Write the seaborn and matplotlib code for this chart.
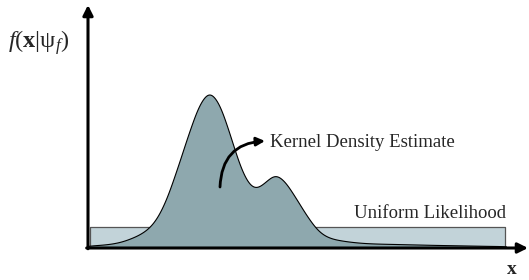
import numpy as np
import seaborn as sns
import matplotlib.pyplot as plt

# sample positions along x and the curve height read at each one
kde_x = [0.0, 0.25, 0.5, 0.75, 1.0, 1.25, 1.5, 1.75, 2.0, 2.25, 2.5, 2.75,
         3.0, 3.25, 3.5, 3.75, 4.0, 4.25, 4.5, 4.75, 5.0, 5.25, 5.5, 5.75,
         6.0, 6.25, 6.5, 6.75, 7.0, 7.25, 7.5, 7.75, 8.0, 8.25, 8.5, 8.75,
         9.0, 9.25, 9.5]
kde_w = [2.5, 3, 4, 6, 10, 15, 24, 44, 76, 110, 143, 161,
         145, 110, 74, 56, 64, 77, 66, 48, 30, 15, 9.5, 7.5,
         6, 5, 4.5, 4.2, 4, 3.7, 3.5, 3.2, 3, 2.8, 2.6, 2.4,
         2.2, 2, 2]
step = 0.25
bandwidth = 0.17

# uniform likelihood band (same height units as kde_w)
uniform_x = [0.05, 9.48]
uniform_h = 21
y_top = 243

kde_color = "#8ea8ae"
uni_color = "#c2d3d9"

sns.set_style("white")
plt.rcParams["font.family"] = ["Liberation Serif", "DejaVu Serif"]
plt.rcParams["mathtext.fontset"] = "custom"
plt.rcParams["mathtext.rm"] = "Liberation Serif"
plt.rcParams["mathtext.it"] = "Liberation Serif:italic"
plt.rcParams["mathtext.bf"] = "Liberation Serif:bold"

fig = plt.figure(figsize=(5.29, 2.8), dpi=100)
ax = fig.add_axes([88 / 529, 32 / 280, 440 / 529, 243 / 280])

# convert height units to density units
scale = step * sum(kde_w)
std = np.sqrt(np.cov(kde_x, aweights=kde_w))

ax.fill_between(uniform_x, 0, uniform_h / scale, color=uni_color,
                edgecolor="#555555", linewidth=0.9, zorder=1)

sns.kdeplot(x=kde_x, weights=kde_w, bw_method=bandwidth / std, cut=0,
            gridsize=500, fill=True, color=kde_color, alpha=1,
            edgecolor="black", linewidth=0.8, ax=ax, zorder=2)

ax.set_xlim(0, 10)
ax.set_ylim(0, y_top / scale)
ax.set_xlabel("")
ax.set_ylabel("")
ax.set_xticks([])
ax.set_yticks([])
for s in ax.spines.values():
    s.set_visible(False)

# axes with arrow heads
arr = dict(arrowstyle="-|>,head_length=0.6,head_width=0.3", lw=2.2,
           color="black", shrinkA=0, shrinkB=0)
ax.annotate("", xy=(1.0, 0), xytext=(-0.003, 0), xycoords="axes fraction",
            arrowprops=arr, annotation_clip=False)
ax.annotate("", xy=(0, 1.0), xytext=(0, -0.003), xycoords="axes fraction",
            arrowprops=arr, annotation_clip=False)

# curved pointer to the kde
ax.annotate("", xy=((265 - 88) / 440, (248 - 141) / 243),
            xytext=((220 - 88) / 440, (248 - 187) / 243),
            xycoords="axes fraction",
            arrowprops=dict(arrowstyle="-|>,head_length=0.5,head_width=0.25",
                            lw=2, color="black", shrinkA=0, shrinkB=0,
                            connectionstyle="arc3,rad=-0.45"))

ax.text((270 - 88) / 440, (248 - 147) / 243, "Kernel Density Estimate",
        transform=ax.transAxes, fontsize=13.5, va="baseline", ha="left")
ax.text((354 - 88) / 440, (248 - 218) / 243, "Uniform Likelihood",
        transform=ax.transAxes, fontsize=13.5, va="baseline", ha="left")

fig.text(8 / 529, (280 - 48) / 280, r"$f(\mathbf{x}|\mathrm{\psi}_f)$",
         fontsize=17.5, va="baseline", ha="left")
fig.text(512 / 529, (280 - 270) / 280, "x", fontsize=14, fontweight="bold",
         va="center", ha="center")

fig.savefig("out.png", dpi=100)
